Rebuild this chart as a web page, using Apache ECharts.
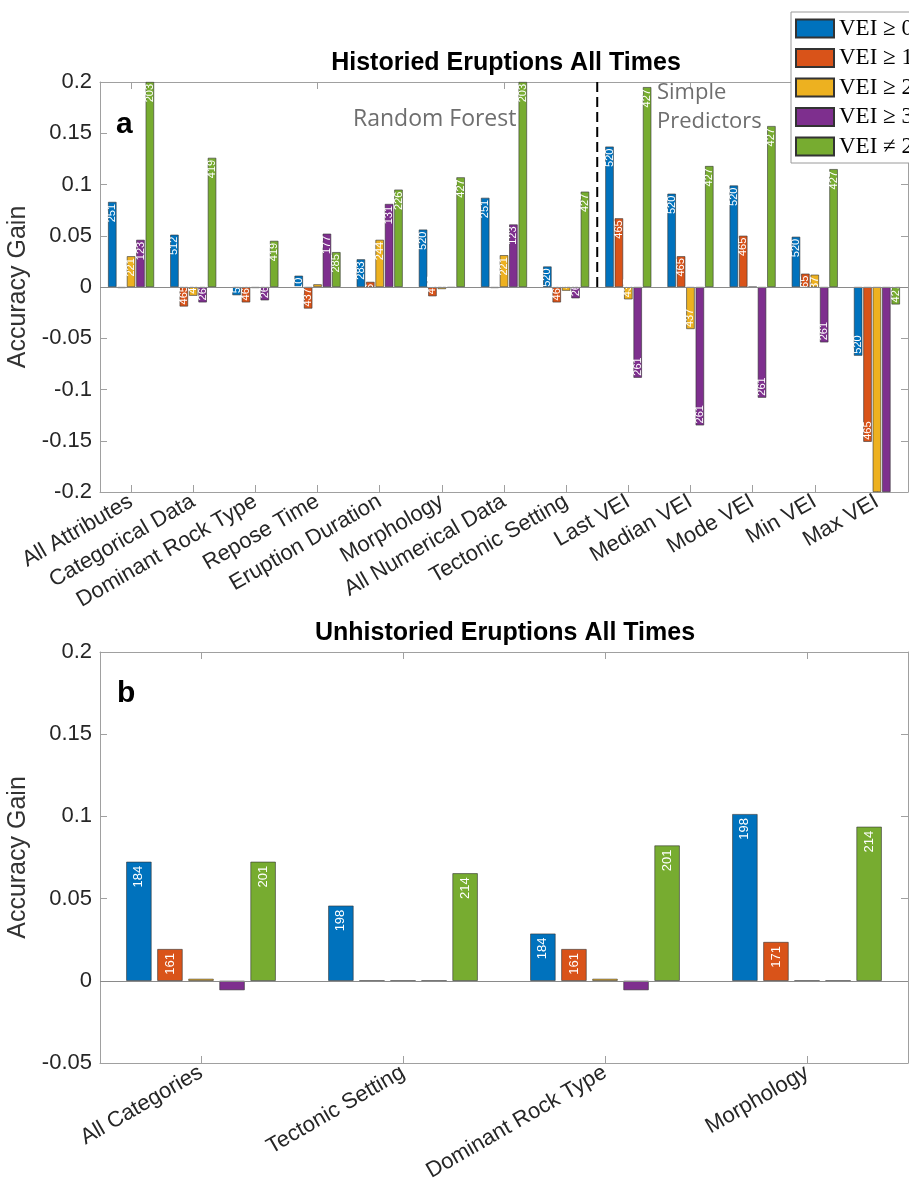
<!DOCTYPE html>
<html>
<head>
<meta charset="utf-8">
<script src="https://cdn.jsdelivr.net/npm/echarts@6/dist/echarts.min.js"></script>
<style>
  html, body { margin: 0; padding: 0; background: #fff; }
  #chart { width: 909px; height: 1197px; }
</style>
</head>
<body>
<div id="chart"></div>
<script>
// ---------------- DATA ----------------
const seriesNames = ['VEI \u2265 0', 'VEI \u2265 1', 'VEI \u2265 2', 'VEI \u2265 3', 'VEI \u2260 2'];

const topCategories = ['All Attributes', 'Categorical Data', 'Dominant Rock Type', 'Repose Time',
  'Eruption Duration', 'Morphology', 'All Numerical Data', 'Tectonic Setting',
  'Last VEI', 'Median VEI', 'Mode VEI', 'Min VEI', 'Max VEI'];

const topVEI0   = [0.083, 0.051, -0.008, 0.011, 0.027, 0.056, 0.087, 0.020, 0.137, 0.091, 0.099, 0.049, -0.067];
const topVEI1   = [-0.001, -0.019, -0.015, -0.021, 0.005, -0.009, -0.001, -0.015, 0.067, 0.030, 0.050, 0.013, -0.151];
const topVEI2   = [0.030, -0.0085, -0.001, 0.0026, 0.046, -0.002, 0.031, -0.0036, -0.012, -0.041, 0.0, 0.012, -0.2];
const topVEI3   = [0.046, -0.015, -0.013, 0.052, 0.081, -0.0007, 0.061, -0.011, -0.0885, -0.135, -0.108, -0.054, -0.2];
const topVEIne2 = [0.2, 0.126, 0.045, 0.034, 0.095, 0.107, 0.2, 0.093, 0.195, 0.118, 0.157, 0.115, -0.017];

const topLbl0   = ['251', '512', '520', '310', '283', '520', '251', '520', '520', '520', '520', '520', '520'];
const topLbl1   = ['235', '465', '465', '437', '266', '465', '235', '465', '465', '465', '465', '465', '465'];
const topLbl2   = ['221', '437', '437', '437', '244', '437', '221', '437', '437', '437', '437', '437', ''];
const topLbl3   = ['123', '261', '261', '177', '131', '261', '123', '261', '261', '261', '261', '261', ''];
const topLblne2 = ['203', '419', '419', '285', '226', '427', '203', '427', '427', '427', '427', '427', '427'];

const dividerAt = 7.5;          // between "Tectonic Setting" and "Last VEI"
const dividerRange = [0.2, 0];  // dashed line from top of axis to zero

const bottomCategories = ['All Categories', 'Tectonic Setting', 'Dominant Rock Type', 'Morphology'];
const botVEI0   = [0.0724, 0.0457, 0.0287, 0.1014];
const botVEI1   = [0.0193, 0.0, 0.0193, 0.0236];
const botVEI2   = [0.0012, 0.0, 0.0012, 0.0];
const botVEI3   = [-0.0057, 0.0, -0.0057, 0.0];
const botVEIne2 = [0.0724, 0.0654, 0.0823, 0.0937];

const botLbl0   = ['184', '198', '184', '198'];
const botLbl1   = ['161', '', '161', '171'];
const botLbl2   = ['', '', '', ''];
const botLbl3   = ['', '', '', ''];
const botLblne2 = ['201', '214', '201', '214'];

const topTicks = { min: -0.2, max: 0.2, interval: 0.05 };
const botTicks = { min: -0.05, max: 0.2, interval: 0.05 };

// ---------------- STYLE ----------------
const colors = ['#0072BD', '#D95319', '#EDB120', '#7E2F8E', '#77AC30'];
const SANS = '"Liberation Sans", Arial, Helvetica, sans-serif';
const axisGray = '#a0a0a0';
const textDark = '#262626';

const chart = echarts.init(document.getElementById('chart'), null, { renderer: 'canvas' });

function makeData(vals, lbls, fontSize, dist) {
  return vals.map((v, i) => ({
    value: v,
    label: {
      show: lbls[i] !== '',
      formatter: lbls[i],
      position: v >= 0 ? 'insideTop' : 'insideBottom',
      align: v >= 0 ? 'right' : 'left',
      verticalAlign: 'middle',
      rotate: 90,
      distance: dist,
      color: '#fff',
      fontSize: fontSize,
      fontFamily: SANS
    }
  }));
}

const topVals = [topVEI0, topVEI1, topVEI2, topVEI3, topVEIne2];
const topLbls = [topLbl0, topLbl1, topLbl2, topLbl3, topLblne2];
const botVals = [botVEI0, botVEI1, botVEI2, botVEI3, botVEIne2];
const botLbls = [botLbl0, botLbl1, botLbl2, botLbl3, botLblne2];

const zeroLine = {
  silent: true, symbol: 'none', label: { show: false },
  lineStyle: { color: '#8a8a8a', width: 1, type: 'solid' },
  data: [{ yAxis: 0 }]
};

const series = [];
topVals.forEach((vals, k) => {
  series.push({
    name: seriesNames[k], type: 'bar', xAxisIndex: 0, yAxisIndex: 0,
    data: makeData(vals, topLbls[k], 11, 2),
    barGap: '12%', barCategoryGap: '26%',
    itemStyle: { color: colors[k], borderColor: '#333', borderWidth: 0.6 },
    markLine: k === 0 ? zeroLine : undefined,
    animation: false
  });
});
botVals.forEach((vals, k) => {
  series.push({
    name: seriesNames[k], type: 'bar', xAxisIndex: 3, yAxisIndex: 2,
    data: makeData(vals, botLbls[k], 13, 4),
    barGap: '23%', barCategoryGap: '26%',
    itemStyle: { color: colors[k], borderColor: '#333', borderWidth: 0.6 },
    markLine: k === 0 ? zeroLine : undefined,
    animation: false
  });
});
series.push({
  name: 'divider', type: 'line', xAxisIndex: 2, yAxisIndex: 0,
  data: dividerRange.map(y => [dividerAt, y]),
  symbol: 'none', silent: true,
  lineStyle: { color: '#000', width: 2, type: [10, 5] },
  animation: false, z: 5
});

function catAxis(grid, data, bottom) {
  return {
    type: 'category', gridIndex: grid, data: data,
    position: bottom ? 'bottom' : 'top',
    boundaryGap: true,
    axisLine: { show: true, onZero: false, lineStyle: { color: axisGray, width: 1 } },
    axisTick: { show: true, inside: true, alignWithLabel: true, length: 7, lineStyle: { color: axisGray } },
    axisLabel: bottom ? { show: true, interval: 0, rotate: 30, fontSize: 22, color: textDark, fontFamily: SANS, margin: 8 } : { show: false },
    splitLine: { show: false }
  };
}
function valAxis(grid, t, left) {
  return {
    type: 'value', gridIndex: grid, min: t.min, max: t.max, interval: t.interval,
    position: left ? 'left' : 'right',
    name: left ? 'Accuracy Gain' : '',
    nameLocation: 'middle', nameGap: 64,
    nameTextStyle: { fontSize: 25, color: '#333', fontFamily: SANS },
    axisLine: { show: true, onZero: false, lineStyle: { color: axisGray, width: 1 } },
    axisTick: { show: true, inside: true, length: 7, lineStyle: { color: axisGray } },
    axisLabel: left ? { show: true, fontSize: 22, color: textDark, fontFamily: SANS, margin: 8 } : { show: false },
    splitLine: { show: false }
  };
}

const option = {
  backgroundColor: '#fff',
  animation: false,
  grid: [
    { left: 100, right: 1, top: 82, height: 410, containLabel: false, outerBoundsMode: 'none' },
    { left: 100, right: 1, top: 652, height: 411, containLabel: false, outerBoundsMode: 'none' }
  ],
  xAxis: [
    catAxis(0, topCategories, true),
    catAxis(0, topCategories, false),
    { type: 'value', gridIndex: 0, min: -0.5, max: topCategories.length - 0.5, show: false },
    catAxis(1, bottomCategories, true),
    catAxis(1, bottomCategories, false)
  ],
  yAxis: [
    valAxis(0, topTicks, true),
    valAxis(0, topTicks, false),
    valAxis(1, botTicks, true),
    valAxis(1, botTicks, false)
  ],
  legend: {
    data: seriesNames,
    orient: 'vertical',
    left: 791, top: 12,
    itemWidth: 38, itemHeight: 18, itemGap: 6.5,
    padding: [5, 30, 5, 4],
    backgroundColor: '#fff',
    borderColor: '#9a9a9a', borderWidth: 1, borderRadius: 0,
    icon: 'rect',
    textStyle: { fontFamily: '"Liberation Serif", "DejaVu Serif", serif', fontSize: 23, color: '#000' },
    selectedMode: false,
    z: 10
  },
  graphic: [
    { type: 'text', x: 506, y: 63, z: 10, style: { text: 'Historied Eruptions All Times', font: 'bold 25px ' + SANS, fill: '#000', align: 'center', verticalAlign: 'middle' } },
    { type: 'text', x: 505, y: 633, z: 10, style: { text: 'Unhistoried Eruptions All Times', font: 'bold 25px ' + SANS, fill: '#000', align: 'center', verticalAlign: 'middle' } },
    { type: 'text', x: 116, y: 125, z: 10, style: { text: 'a', font: 'bold 30px ' + SANS, fill: '#000', align: 'left', verticalAlign: 'middle' } },
    { type: 'text', x: 117, y: 694, z: 10, style: { text: 'b', font: 'bold 30px ' + SANS, fill: '#000', align: 'left', verticalAlign: 'middle' } },
    { type: 'text', x: 353, y: 119, z: 10, style: { text: 'Random Forest', font: '23px "Open Sans", sans-serif', fill: '#6e6e6e', align: 'left', verticalAlign: 'middle' } },
    { type: 'text', x: 657, y: 93, z: 10, style: { text: 'Simple', font: '22px "Open Sans", sans-serif', fill: '#6e6e6e', align: 'left', verticalAlign: 'middle' } },
    { type: 'text', x: 657, y: 122, z: 10, style: { text: 'Predictors', font: '22px "Open Sans", sans-serif', fill: '#6e6e6e', align: 'left', verticalAlign: 'middle' } }
  ],
  series: series
};
chart.setOption(option);
</script>
</body>
</html>
